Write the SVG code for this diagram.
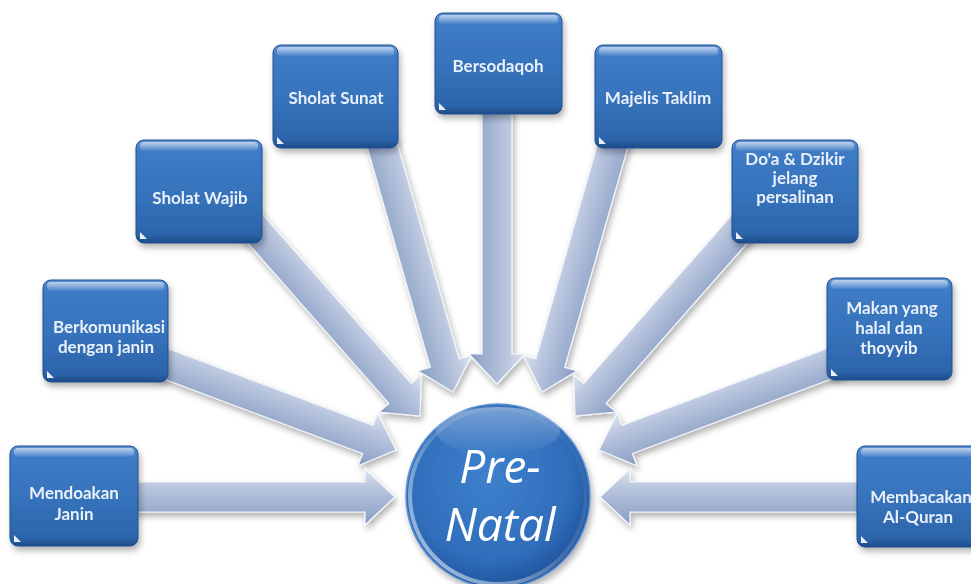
<svg xmlns="http://www.w3.org/2000/svg" xmlns:xlink="http://www.w3.org/1999/xlink" width="971" height="584" viewBox="0 0 971 584">
<defs>
<style>
.box{fill:url(#boxGrad);stroke:#1f4f8f;stroke-width:1;filter:url(#shadow)}
.gloss{fill:url(#glossGrad)}
.tri{fill:#ffffff;opacity:0.9}
.t{font-family:Lato,"Open Sans","Liberation Sans",sans-serif;font-size:17px;font-weight:bold;fill:#eaf0f9;text-anchor:middle}
.big{font-family:"Open Sans","Liberation Sans",sans-serif;font-style:italic;font-size:46px;fill:#ffffff;text-anchor:middle}
.arrow{fill:url(#arrGrad);stroke:#f2f5fb;stroke-width:1.2;stroke-linejoin:miter}
</style>
<linearGradient id="boxGrad" x1="0" y1="0" x2="0" y2="1">
<stop offset="0" stop-color="#5d91d4"/>
<stop offset="0.1" stop-color="#3f7cc6"/>
<stop offset="0.55" stop-color="#3572bb"/>
<stop offset="0.92" stop-color="#2c64aa"/>
<stop offset="1" stop-color="#1d4b87"/>
</linearGradient>
<linearGradient id="glossGrad" x1="0" y1="0" x2="0" y2="1">
<stop offset="0" stop-color="#ffffff" stop-opacity="0.6"/>
<stop offset="1" stop-color="#ffffff" stop-opacity="0.05"/>
</linearGradient>
<linearGradient id="arrGrad" gradientUnits="userSpaceOnUse" x1="0" y1="-28" x2="0" y2="28">
<stop offset="0" stop-color="#dde4f0"/>
<stop offset="0.3" stop-color="#bcc8df"/>
<stop offset="0.6" stop-color="#a5b5d3"/>
<stop offset="0.85" stop-color="#93a6c9"/>
<stop offset="1" stop-color="#7f93bb"/>
</linearGradient>
<radialGradient id="circGrad" cx="0.45" cy="0.4" r="0.6">
<stop offset="0" stop-color="#3e81cd"/>
<stop offset="0.75" stop-color="#2f6dba"/>
<stop offset="1" stop-color="#20549b"/>
</radialGradient>
<linearGradient id="rimGrad" x1="1" y1="0" x2="0" y2="1">
<stop offset="0" stop-color="#ffffff" stop-opacity="0"/>
<stop offset="0.5" stop-color="#ffffff" stop-opacity="0.15"/>
<stop offset="1" stop-color="#cfe0f7" stop-opacity="0.8"/>
</linearGradient>
<linearGradient id="hiGrad" x1="0" y1="0" x2="0" y2="1">
<stop offset="0" stop-color="#ffffff" stop-opacity="0.35"/>
<stop offset="1" stop-color="#ffffff" stop-opacity="0"/>
</linearGradient>
<filter id="shadow" x="-20%" y="-20%" width="140%" height="150%">
<feDropShadow dx="2" dy="4" stdDeviation="3" flood-color="#000000" flood-opacity="0.3"/>
</filter>
<path id="arr" d="M-330,-15 L-30,-15 L-30,-28 L0,0 L-30,28 L-30,15 L-330,15 Z"/>
</defs>
<rect width="971" height="584" fill="#ffffff"/>

<g id="connectors" filter="url(#shadow)">
<use xlink:href="#arr" class="arrow" transform="translate(395,497)"/>
<use xlink:href="#arr" class="arrow" transform="translate(396,450) rotate(20.54)"/>
<use xlink:href="#arr" class="arrow" transform="translate(420,416) rotate(48.65)"/>
<use xlink:href="#arr" class="arrow" transform="translate(453,392) rotate(74)"/>
<use xlink:href="#arr" class="arrow" transform="translate(497,384) rotate(90)"/>
<use xlink:href="#arr" class="arrow" transform="translate(542,392) scale(-1,1) rotate(74)"/>
<use xlink:href="#arr" class="arrow" transform="translate(575,416) scale(-1,1) rotate(48.65)"/>
<use xlink:href="#arr" class="arrow" transform="translate(599,450) scale(-1,1) rotate(20.54)"/>
<use xlink:href="#arr" class="arrow" transform="translate(600,497) scale(-1,1)"/>
</g>

<g id="center">
<circle cx="498" cy="496" r="92" fill="url(#circGrad)" stroke="#5f93d2" stroke-width="1.5" filter="url(#shadow)"/>
<circle cx="498" cy="496" r="88" fill="none" stroke="url(#rimGrad)" stroke-width="4"/>
<ellipse cx="498" cy="431" rx="62" ry="24" fill="url(#hiGrad)"/>
<text class="big" x="500" y="483">Pre-</text>
<text class="big" x="500" y="541">Natal</text>
</g>

<g id="n1">
<rect class="box" x="10" y="446" width="128" height="100" rx="8"/>
<rect class="gloss" x="14" y="448" width="120" height="9" rx="4"/>
<path class="tri" d="M14,535 L14,542 L21,542 Z"/>
<text class="t" x="74" y="499">Mendoakan</text>
<text class="t" x="74" y="520">Janin</text>
</g>
<g id="n2">
<rect class="box" x="43" y="280" width="125" height="102" rx="8"/>
<rect class="gloss" x="47" y="282" width="117" height="9" rx="4"/>
<path class="tri" d="M47,371 L47,378 L54,378 Z"/>
<text class="t" x="109" y="333">Berkomunikasi</text>
<text class="t" x="106" y="353">dengan janin</text>
</g>
<g id="n3">
<rect class="box" x="136" y="140" width="126" height="103" rx="8"/>
<rect class="gloss" x="140" y="142" width="118" height="9" rx="4"/>
<path class="tri" d="M140,232 L140,239 L147,239 Z"/>
<text class="t" x="200" y="204">Sholat Wajib</text>
</g>
<g id="n4">
<rect class="box" x="273" y="45" width="125" height="103" rx="8"/>
<rect class="gloss" x="277" y="47" width="117" height="9" rx="4"/>
<path class="tri" d="M277,137 L277,144 L284,144 Z"/>
<text class="t" x="336" y="104">Sholat Sunat</text>
</g>
<g id="n5">
<rect class="box" x="435" y="13" width="127" height="101" rx="8"/>
<rect class="gloss" x="439" y="15" width="119" height="9" rx="4"/>
<path class="tri" d="M439,103 L439,110 L446,110 Z"/>
<text class="t" x="498" y="72">Bersodaqoh</text>
</g>
<g id="n6">
<rect class="box" x="595" y="45" width="127" height="103" rx="8"/>
<rect class="gloss" x="599" y="47" width="119" height="9" rx="4"/>
<path class="tri" d="M599,137 L599,144 L606,144 Z"/>
<text class="t" x="658" y="104">Majelis Taklim</text>
</g>
<g id="n7">
<rect class="box" x="732" y="140" width="126" height="103" rx="8"/>
<rect class="gloss" x="736" y="142" width="118" height="9" rx="4"/>
<path class="tri" d="M736,232 L736,239 L743,239 Z"/>
<text class="t" x="795" y="165">Do'a &amp; Dzikir</text>
<text class="t" x="795" y="184">jelang</text>
<text class="t" x="795" y="203">persalinan</text>
</g>
<g id="n8">
<rect class="box" x="827" y="278" width="125" height="102" rx="8"/>
<rect class="gloss" x="831" y="280" width="117" height="9" rx="4"/>
<path class="tri" d="M831,369 L831,376 L838,376 Z"/>
<text class="t" x="892" y="314">Makan yang</text>
<text class="t" x="889" y="334">halal dan</text>
<text class="t" x="889" y="354">thoyyib</text>
</g>
<g id="n9">
<rect class="box" x="857" y="446" width="126" height="101" rx="8"/>
<rect class="gloss" x="861" y="448" width="118" height="9" rx="4"/>
<path class="tri" d="M861,536 L861,543 L868,543 Z"/>
<text class="t" x="921" y="503">Membacakan</text>
<text class="t" x="918" y="523">Al-Quran</text>
</g>
</svg>
